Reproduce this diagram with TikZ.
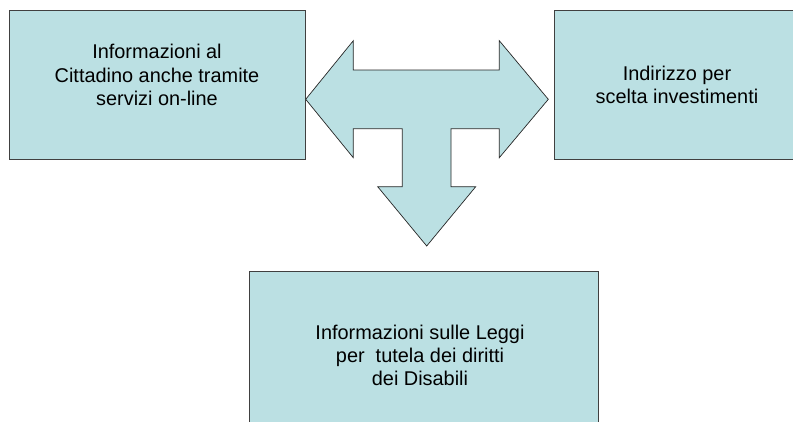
\documentclass[tikz,border=0pt]{standalone}
\usepackage{fontspec}
\setmainfont{Liberation Sans}
\definecolor{boxfill}{HTML}{BBE0E3}
\tikzset{
  infobox/.style={rectangle, draw=black!75, line width=0.9pt, fill=boxfill, inner sep=0pt},
  infotext/.style={align=center, anchor=north, inner sep=0pt, font=\fontsize{19.9}{23.4}\selectfont},
  blockarrow/.style={draw=black!85, line width=0.7pt, fill=boxfill, line join=miter}
}
\begin{document}
\begin{tikzpicture}[x=1pt,y=-1pt]
		\useasboundingbox (0,0) rectangle (793,421);
		%%  boxes  %%%%%%%%
		\node[infobox, minimum width=296pt, minimum height=149pt] (cittadino) at (157,84.5) {};
		\node[infobox, minimum width=246pt, minimum height=149pt] (investimenti) at (677,84.5) {};
		\node[infobox, minimum width=349pt, minimum height=169pt] (disabili) at (423.5,355.5) {};
		%%  texts  %%%%%%%%
		\node[infotext] (cittadinotxt) at (157,44) {Informazioni al\\ Cittadino anche tramite\\ servizi on-line};
		\node[infotext] (investimentitxt) at (677,65.5) {Indirizzo per\\ scelta investimenti};
		\node[infotext] (disabilitxt) at (420,324.5) {Informazioni sulle Leggi\\ per\ \ tutela dei diritti\\ dei Disabili};
		%%  T arrow  %%%%%%%%
		\draw[blockarrow] (305.7,99.3) -- (353.3,40.7) -- (353.3,70) -- (499.3,70) -- (499.3,40.7)
			-- (548.3,99.3) -- (499.3,157.7) -- (499.3,128.7) -- (451,128.7) -- (451,186.7)
			-- (475.7,186.7) -- (426.7,246) -- (377.7,186.7) -- (402.3,186.7) -- (402.3,128.7)
			-- (353.3,128.7) -- (353.3,157.7) -- cycle;
		%%%%%%%%%%%%%%%
\end{tikzpicture}
\end{document}
